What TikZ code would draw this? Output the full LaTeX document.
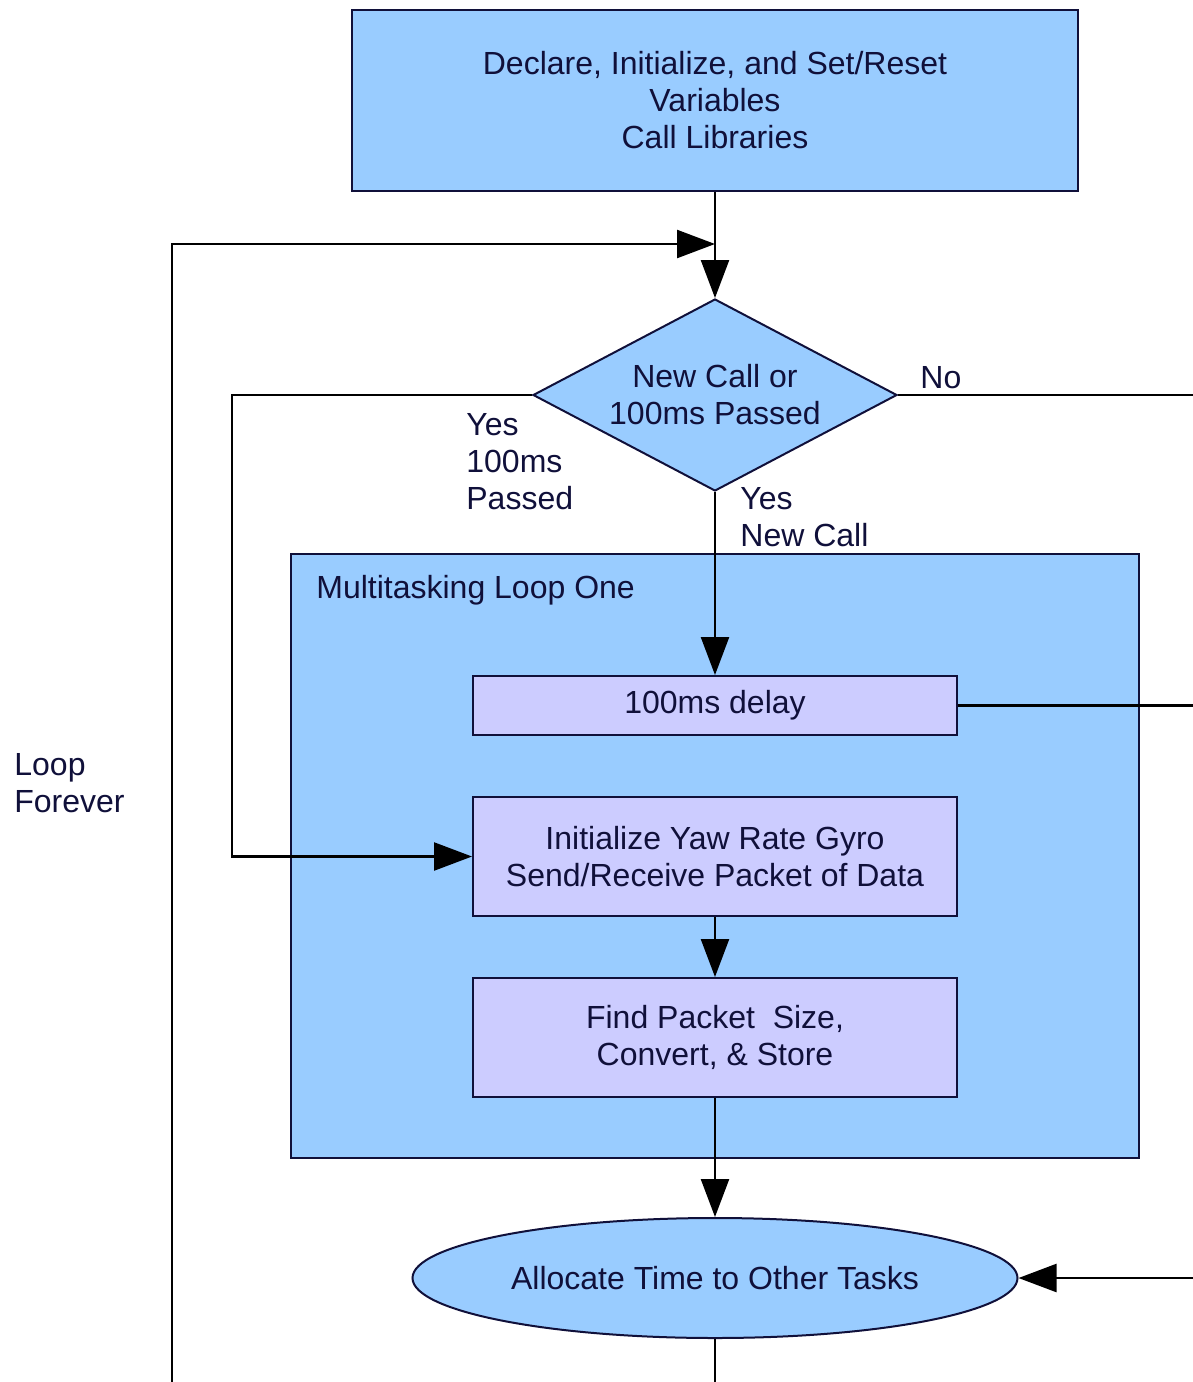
\documentclass[tikz,border=0pt]{standalone}
\usepackage{fontspec}
\setmainfont{Liberation Sans}
\usetikzlibrary{shapes.geometric,arrows.meta}
\definecolor{procblue}{HTML}{99CCFF}
\definecolor{tasklav}{HTML}{CCCCFF}
\definecolor{inkcol}{HTML}{10103A}
\begin{document}
\begin{tikzpicture}[x=0.5pt,y=-0.5pt,
  every node/.style={font=\fontsize{16}{18.5}\selectfont, text=inkcol},
  base/.style={draw=inkcol, line width=1pt, inner sep=0pt, align=center},
  bigbox/.style={base, rectangle, fill=procblue},
  taskbox/.style={base, rectangle, fill=tasklav, minimum width=242pt},
  decision/.style={base, diamond, fill=procblue, aspect=1.9},
  term/.style={base, ellipse, fill=procblue},
  label/.style={inner sep=0pt, align=left},
  link/.style={draw=black, line width=1.2pt},
  flow/.style={link, -{Triangle[length=19pt,width=14pt]}}]
\useasboundingbox (0,0) rectangle (1193,1382);

% container for the first multitasking loop
\node[bigbox, minimum width=424pt, minimum height=302pt] (loopone) at (715,856) {};
\node[label, anchor=west] (looponelbl) at (316,590) {Multitasking Loop One};

% main blocks
\node[bigbox, minimum width=363pt, minimum height=90.5pt] (init) at (715,100.5)
  {Declare, Initialize, and Set/Reset\\Variables\\Call Libraries};
\node[decision, minimum width=182pt, minimum height=96pt] (check) at (715,395)
  {New Call or\\100ms Passed};
\node[taskbox, minimum height=29.5pt] (delay) at (715,705.5) {100ms delay};
\node[taskbox, minimum height=59.5pt] (gyro) at (715,856.5)
  {Initialize Yaw Rate Gyro\\Send/Receive Packet of Data};
\node[taskbox, minimum height=59.5pt] (packet) at (715,1037.5)
  {Find Packet\ \ Size,\\Convert, \& Store};
\node[term, minimum width=302.5pt, minimum height=60pt] (alloc) at (715,1278)
  {Allocate Time to Other Tasks};

% branch labels
\node[label, anchor=west] (nolbl) at (920,378) {No};
\node[label, anchor=west] (yes100) at (466,462) {Yes\\100ms\\Passed};
\node[label, anchor=west] (yesnew) at (740,517) {Yes\\New Call};
\node[label, anchor=west] (forever) at (14,783) {Loop\\Forever};

% free ends of connectors
\coordinate (join) at (715,244);
\coordinate (loopfoot) at (172,1382);
\coordinate (allocfoot) at (715,1382);
\coordinate (noedge) at (1193,395);
\coordinate (delayedge) at (1193,705.5);
\coordinate (returnedge) at (1193,1278);
\coordinate (leftturn) at (232,395);

% connectors
\draw[flow] (init.south) -- (check.north);
\draw[flow] (loopfoot) |- (join);
\draw[link] (check.east) -- (noedge);
\draw[flow] (check.south) -- (delay.north);
\draw[link] (delay.east) -- (delayedge);
\draw[flow] (check.west) -- (leftturn) |- (gyro.west);
\draw[flow] (gyro.south) -- (packet.north);
\draw[flow] (packet.south) -- (alloc.north);
\draw[link] (alloc.south) -- (allocfoot);
\draw[flow] (returnedge) -- (alloc.east);
\end{tikzpicture}
\end{document}
